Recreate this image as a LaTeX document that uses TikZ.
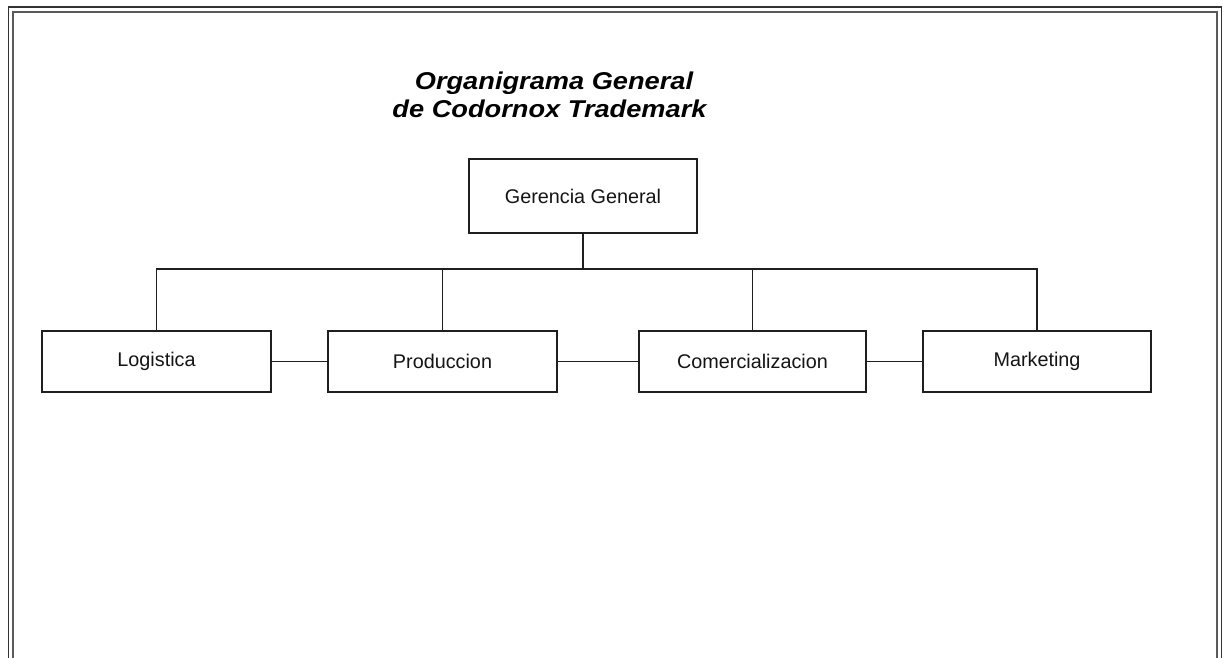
\documentclass[tikz,border=0pt]{standalone}
\usepackage{fontspec}
\setmainfont{Liberation Sans}
\begin{document}
\begin{tikzpicture}[x=1pt,y=-1pt,
  unitbox/.style={draw=black!88, line width=1.6pt, rectangle, inner sep=0pt,
    minimum height=61pt, text=black!92, font=\fontsize{19.8}{22}\selectfont},
  link/.style={draw=black!88, line width=1.6pt},
  outerline/.style={draw=black!80, line width=1.8pt},
  innerline/.style={draw=black!65, line width=1.5pt},
  titletext/.style={anchor=base, inner sep=0pt,
    font=\fontsize{24.3}{28}\selectfont\bfseries\itshape}]
\useasboundingbox (0,0) rectangle (1229,658);

% double page frame, open at the bottom
\draw[outerline] (8.5,658) -- (8.5,7) -- (1221.5,7) -- (1221.5,658);
\draw[innerline] (13,658) -- (13,12) -- (1217,12) -- (1217,658);

% title
\node[titletext] (t1) at (554,90) {\scalebox{1.12}[1]{Organigrama General}};
\node[titletext] (t2) at (549.5,118) {\scalebox{1.12}[1]{de Codornox Trademark}};

% units
\node[unitbox, minimum width=228pt, minimum height=74pt] (ger) at (583,196) {Gerencia General};
\node[unitbox, minimum width=229pt] (log) at (156.5,361.5) {Logistica};
\node[unitbox, minimum width=229pt] (pro) at (442.5,361.5) {Produccion};
\node[unitbox, minimum width=227pt] (com) at (752.5,361.5) {Comercializacion};
\node[unitbox, minimum width=228pt] (mkt) at (1037,361.5) {Marketing};

% reporting lines
\coordinate (bus) at (583,269);
\draw[link] (ger.south) -- (bus);
\draw[link] (log.north) -- (log.north |- bus) -- (mkt.north |- bus) -- (mkt.north);
\draw[link] (pro.north) -- (pro.north |- bus);
\draw[link] (com.north) -- (com.north |- bus);

% links between neighbouring units
\draw[link] (log.east) -- (pro.west);
\draw[link] (pro.east) -- (com.west);
\draw[link] (com.east) -- (mkt.west);
\end{tikzpicture}
\end{document}
